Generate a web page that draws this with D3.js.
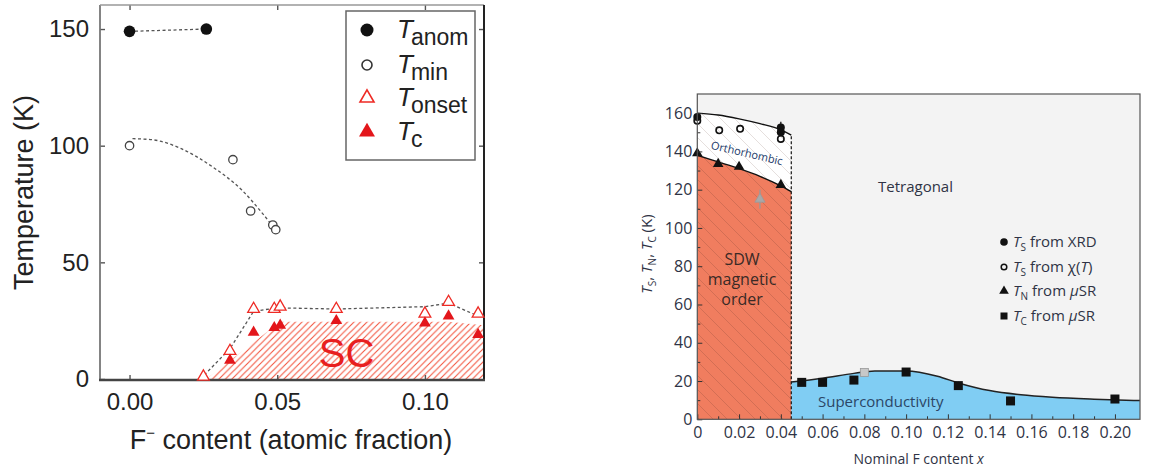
<!DOCTYPE html>
<html><head><meta charset="utf-8">
<script src="https://cdn.jsdelivr.net/npm/d3@7"></script>
<style>body{margin:0;background:#fff}svg{display:block}</style>
</head><body>
<svg id="chart" width="1152" height="472"></svg>
<script>
// ---------- Left panel: characteristic temperatures vs F content ----------
const tAnom  = [[0.000,149],[0.026,150]];
const tMin   = [[0.000,100],[0.035,94],[0.041,72],[0.0485,66],[0.0495,64]];
const tOnset = [[0.025,1],[0.034,12],[0.042,30],[0.049,30],[0.051,31],[0.070,30],[0.100,28],[0.108,33],[0.118,28]];
const tCrit  = [[0.034,8],[0.042,20],[0.049,22],[0.051,23],[0.070,25],[0.100,24],[0.108,27],[0.118,19]];
const guideAnom  = [[0.000,149],[0.026,150]];
const guideMin   = [[0.001,103],[0.008,102.5],[0.017,99],[0.028,91],[0.038,81],[0.045,71],[0.050,63]];
const guideOnset = [[0.024,0],[0.034,13],[0.042,29],[0.050,30.5],[0.070,30],[0.100,31],[0.108,32.5],[0.118,27]];
const scRegion   = [[0.026,0],[0.051,24.5],[0.108,24.5],[0.120,23],[0.120,0]];
const xTicksA = [0.00,0.05,0.10];
const yTicksA = [0,50,100,150];

// ---------- Right panel: phase diagram vs nominal F content ----------
const tsXRD  = [[0,158,0],[0.040,152.5,3],[0.040,150,0]];
const tsChi  = [[0,156],[0.0105,151],[0.0205,151.8],[0.040,146.5]];
const tnMuSR = [[0,139],[0.010,133.5],[0.020,132],[0.040,122.5]];
const tnGray = [[0.030,115,5]];
const tcMuSR = [[0.050,19.3,0],[0.060,19.3,0],[0.075,20.5,2],[0.100,24.7,0],[0.125,17.6,2],[0.150,9.6,0],[0.200,10.6,2]];
const tcGray = [[0.080,24.5,1]];
const tsLine = [[0,160],[0.01,159],[0.02,157],[0.03,154.5],[0.04,151.3],[0.045,148.5]];
const tnLine = [[0,138],[0.01,134.5],[0.02,131],[0.03,127],[0.04,122],[0.045,119]];
const scDome = [[0.045,19.5],[0.06,21.5],[0.075,24],[0.085,25.2],[0.10,25.3],[0.115,22.5],[0.125,19],[0.14,15],[0.155,12.8],[0.17,11.5],[0.19,10.5],[0.212,9.8]];
const sdwEdge = 0.045;
const xTicksB = [0,0.02,0.04,0.06,0.08,0.10,0.12,0.14,0.16,0.18,0.20];
const xTickLabelsB = ["0","0.02","0.04","0.06","0.08","0.10","0.12","0.14","0.16","0.18","0.20"];
const yTicksB = [0,20,40,60,80,100,120,140,160];
const legendB = [
  {sym:"dot",  sub:"S", rest:" from XRD"},
  {sym:"ring", sub:"S", rest:"chi"},
  {sym:"tri",  sub:"N", rest:"musr"},
  {sym:"sq",   sub:"C", rest:"musr"}
];

const svg = d3.select("#chart");
const defs = svg.append("defs");

// red hatch for the SC area (left)
const pA = defs.append("pattern").attr("id","hatchA").attr("patternUnits","userSpaceOnUse")
  .attr("width",6.5).attr("height",6.5);
pA.append("path").attr("d","M0,6.5L6.5,0M-1.6,1.6L1.6,-1.6M4.9,8.1L8.1,4.9")
  .attr("stroke","#f2553f").attr("stroke-width",1.1);
// faint back-slash hatch for the ordered phases (right)
const pB = defs.append("pattern").attr("id","hatchB").attr("patternUnits","userSpaceOnUse")
  .attr("width",14).attr("height",14);
pB.append("path").attr("d","M0,0L14,14M-7,7L7,21M7,-7L21,7")
  .attr("stroke","rgba(90,50,40,0.22)").attr("stroke-width",0.9);

// ================= LEFT PANEL =================
const xA = d3.scaleLinear().domain([-0.01,0.12]).range([100,484]);
const yA = d3.scaleLinear().domain([0,160]).range([379,5.7]);
const gA = svg.append("g").attr("font-family","'Liberation Sans', Arial, sans-serif");

gA.append("path").datum(scRegion)
  .attr("d", d3.line().x(d=>xA(d[0])).y(d=>yA(d[1])))
  .attr("fill","url(#hatchA)");
gA.append("text").attr("x",xA(0.0735)).attr("y",yA(5)).attr("font-size",40)
  .attr("fill","#e8201f").attr("text-anchor","middle").text("SC");

// axes (inward ticks)
const axLA = gA.append("g").attr("transform","translate(100,0)")
  .call(d3.axisLeft(yA).tickValues(yTicksA).tickSize(-5).tickPadding(11).tickFormat(d3.format("d")));
const axRA = gA.append("g").attr("transform","translate(484,0)")
  .call(d3.axisRight(yA).tickValues(yTicksA.filter(v=>v>0)).tickSize(-5).tickFormat(""));
const axBA = gA.append("g").attr("transform","translate(0,380)")
  .call(d3.axisBottom(xA).tickValues(xTicksA).tickSize(-5).tickPadding(13).tickFormat(d3.format(".2f")));
const axTA = gA.append("g").attr("transform","translate(0,5)")
  .call(d3.axisTop(xA).tickValues(xTicksA).tickSize(-5).tickFormat(""));
[axLA,axRA,axBA,axTA].forEach(a=>{
  a.select(".domain").remove();
  a.selectAll("line").attr("stroke","#555").attr("stroke-width",1.4);
  a.selectAll("text").attr("font-size",24).attr("fill","#222").attr("font-family","'Liberation Sans', Arial, sans-serif");
});
// frame
gA.append("line").attr("x1",100).attr("x2",100).attr("y1",5).attr("y2",380).attr("stroke","#777").attr("stroke-width",1.8);
gA.append("line").attr("x1",100).attr("x2",484).attr("y1",5).attr("y2",5).attr("stroke","#999").attr("stroke-width",1.6);
gA.append("line").attr("x1",484).attr("x2",484).attr("y1",5).attr("y2",381).attr("stroke","#222").attr("stroke-width",2);
gA.append("line").attr("x1",99).attr("x2",485).attr("y1",380).attr("y2",380).attr("stroke","#444").attr("stroke-width",2.6);

// dashed guides
const lineA = d3.line().x(d=>xA(d[0])).y(d=>yA(d[1]));
const lineAc = d3.line().x(d=>xA(d[0])).y(d=>yA(d[1])).curve(d3.curveMonotoneX);
[[guideAnom,lineA],[guideMin,lineAc],[guideOnset,lineA]].forEach(([g,gen])=>{
  gA.append("path").attr("d",gen(g))
    .attr("fill","none").attr("stroke","#555").attr("stroke-width",1.3).attr("stroke-dasharray","3,2.5");
});

// markers
gA.selectAll(".anom").data(tAnom).join("circle")
  .attr("cx",d=>xA(d[0])).attr("cy",d=>yA(d[1])).attr("r",5.8).attr("fill","#111");
gA.selectAll(".tmin").data(tMin).join("circle")
  .attr("cx",d=>xA(d[0])).attr("cy",d=>yA(d[1])).attr("r",4.2)
  .attr("fill","#fff").attr("stroke","#444").attr("stroke-width",1.3);
const triA = d3.symbol(d3.symbolTriangle, 60);
gA.selectAll(".ons").data(tOnset).join("path")
  .attr("d",triA).attr("transform",d=>`translate(${xA(d[0])},${yA(d[1])})`)
  .attr("fill","#fff").attr("stroke","#ee2a24").attr("stroke-width",1.3);
gA.selectAll(".tc").data(tCrit).join("path")
  .attr("d",triA).attr("transform",d=>`translate(${xA(d[0])},${yA(d[1])})`)
  .attr("fill","#e3161b");

// axis titles
gA.append("text").attr("transform","translate(33,192.5) rotate(-90)")
  .attr("text-anchor","middle").attr("font-size",27).attr("fill","#222").text("Temperature (K)");
const xt = gA.append("text").attr("x",291).attr("y",449).attr("text-anchor","middle")
  .attr("font-size",27).attr("fill","#222");
xt.append("tspan").text("F");
xt.append("tspan").attr("dy",-11).attr("font-size",15).text("\u2212");
xt.append("tspan").attr("dy",11).text(" content (atomic fraction)");

// legend
const lgA = gA.append("g");
lgA.append("rect").attr("x",346).attr("y",11).attr("width",129).attr("height",149)
  .attr("fill","#fff").attr("stroke","#666").attr("stroke-width",1.5);
const legA = [
  {y:30, sub:"anom", draw:g=>g.append("circle").attr("r",6.5).attr("fill","#111")},
  {y:65, sub:"min",  draw:g=>g.append("circle").attr("r",5).attr("fill","#fff").attr("stroke","#333").attr("stroke-width",1.6)},
  {y:98, sub:"onset",draw:g=>g.append("path").attr("d",d3.symbol(d3.symbolTriangle,85)).attr("fill","#fff").attr("stroke","#ee2a24").attr("stroke-width",1.6)},
  {y:132,sub:"c",    draw:g=>g.append("path").attr("d",d3.symbol(d3.symbolTriangle,110)).attr("fill","#e3161b")}
];
legA.forEach(e=>{
  const m = lgA.append("g").attr("transform",`translate(367,${e.y})`); e.draw(m);
  const t = lgA.append("text").attr("x",397).attr("y",e.y+8).attr("font-size",26).attr("fill","#222");
  t.append("tspan").attr("font-style","italic").text("T");
  t.append("tspan").attr("dx",-2).attr("dy",7).attr("font-size",23).text(e.sub);
});

// ================= RIGHT PANEL =================
const xB = d3.scaleLinear().domain([0,0.212]).range([697.3,1140]);
const yB = d3.scaleLinear().domain([0,170]).range([419.3,94]);
const gB = svg.append("g").attr("font-family","'Open Sans', 'Noto Sans', sans-serif");
const txtB = "#2f3345";

gB.append("rect").attr("x",xB(0)).attr("y",yB(170)).attr("width",xB(0.212)-xB(0)).attr("height",yB(0)-yB(170))
  .attr("fill","#f3f3f3");

const lineB = d3.line().x(d=>xB(d[0])).y(d=>yB(d[1]));
const lineBc = d3.line().x(d=>xB(d[0])).y(d=>yB(d[1])).curve(d3.curveMonotoneX);

// orthorhombic band between T_N and T_S
const orthoPoly = tsLine.concat(tnLine.slice().reverse());
gB.append("path").attr("d",lineB(orthoPoly)+"Z").attr("fill","#fff");
gB.append("path").attr("d",lineB(orthoPoly)+"Z").attr("fill","url(#hatchB)").attr("opacity",0.8);
// SDW region
const sdwPoly = [[0,0]].concat(tnLine,[[sdwEdge,0]]);
gB.append("path").attr("d",lineB(sdwPoly)+"Z").attr("fill","#f07d5f");
gB.append("path").attr("d",lineB(sdwPoly)+"Z").attr("fill","url(#hatchB)");
// superconducting dome
gB.append("path")
  .attr("d", d3.area().x(d=>xB(d[0])).y0(yB(0)).y1(d=>yB(d[1])).curve(d3.curveMonotoneX)(scDome))
  .attr("fill","#80cdf3");

// phase boundaries
gB.append("path").attr("d",lineBc(tsLine)).attr("fill","none").attr("stroke","#111").attr("stroke-width",1.4);
gB.append("path").attr("d",lineBc(tnLine)).attr("fill","none").attr("stroke","#111").attr("stroke-width",1.4);
gB.append("path").attr("d",lineBc(scDome)).attr("fill","none").attr("stroke","#222").attr("stroke-width",1.5);
gB.append("line").attr("x1",xB(sdwEdge)).attr("x2",xB(sdwEdge)).attr("y1",yB(0)).attr("y2",yB(148.5))
  .attr("stroke","#111").attr("stroke-width",1.2).attr("stroke-dasharray","3,2");

// region labels
gB.append("text").attr("x",878).attr("y",192).attr("font-size",15).attr("fill",txtB).text("Tetragonal");
gB.append("text").attr("transform","translate(746,157) rotate(13)")
  .attr("text-anchor","middle").attr("font-size",11).attr("fill","#233b6a").text("Orthorhombic");
["SDW","magnetic","order"].forEach((s,i)=>{
  gB.append("text").attr("x",742).attr("y",265+i*20).attr("text-anchor","middle")
    .attr("font-size",16).attr("fill","#3a2a26").text(s);
});
gB.append("text").attr("x",818).attr("y",407).attr("font-size",15).attr("fill","#2b4666").text("Superconductivity");

// error bars
function errBars(data, color){
  data.filter(d=>d[2]>0).forEach(d=>{
    gB.append("line").attr("x1",xB(d[0])).attr("x2",xB(d[0]))
      .attr("y1",yB(d[1]-d[2])).attr("y2",yB(d[1]+d[2])).attr("stroke",color).attr("stroke-width",1.3);
  });
}
errBars(tsXRD,"#111"); errBars(tcMuSR,"#111"); errBars(tcGray,"#999"); errBars(tnGray,"#999");

// markers
gB.selectAll(".xrd").data(tsXRD).join("circle")
  .attr("cx",d=>xB(d[0])).attr("cy",d=>yB(d[1])).attr("r",4).attr("fill","#111");
gB.selectAll(".chi").data(tsChi).join("circle")
  .attr("cx",d=>xB(d[0])).attr("cy",d=>yB(d[1])).attr("r",3.2).attr("fill","none").attr("stroke","#111").attr("stroke-width",1.6);
const triB = d3.symbol(d3.symbolTriangle, 48);
gB.selectAll(".tn").data(tnMuSR).join("path")
  .attr("d",triB).attr("transform",d=>`translate(${xB(d[0])},${yB(d[1])})`).attr("fill","#111");
gB.selectAll(".tng").data(tnGray).join("path")
  .attr("d",d3.symbol(d3.symbolTriangle, 45)).attr("transform",d=>`translate(${xB(d[0])},${yB(d[1])})`)
  .attr("fill","#a8a8a8").attr("stroke","#999").attr("stroke-width",0.8);
gB.selectAll(".tcs").data(tcMuSR).join("rect")
  .attr("x",d=>xB(d[0])-4.5).attr("y",d=>yB(d[1])-4.5).attr("width",9).attr("height",9).attr("fill","#111");
gB.selectAll(".tcg").data(tcGray).join("rect")
  .attr("x",d=>xB(d[0])-4).attr("y",d=>yB(d[1])-4).attr("width",8).attr("height",8)
  .attr("fill","#c8c8c8").attr("stroke","#999").attr("stroke-width",0.8);

// axes
const axLB = gB.append("g").attr("transform",`translate(${xB(0)},0)`)
  .call(d3.axisLeft(yB).tickValues(yTicksB).tickSize(-5).tickPadding(5));
const axLBm = gB.append("g").attr("transform",`translate(${xB(0)},0)`)
  .call(d3.axisLeft(yB).tickValues(d3.range(10,170,20)).tickSize(-3).tickFormat(""));
const axBB = gB.append("g").attr("transform",`translate(0,${yB(0)})`)
  .call(d3.axisBottom(xB).tickValues(xTicksB).tickSize(-5).tickPadding(7).tickFormat((d,i)=>xTickLabelsB[i]));
const axBBm = gB.append("g").attr("transform",`translate(0,${yB(0)})`)
  .call(d3.axisBottom(xB).tickValues(d3.range(0.01,0.21,0.02)).tickSize(-3).tickFormat(""));
[axLB,axLBm,axBB,axBBm].forEach(a=>{
  a.select(".domain").remove();
  a.selectAll("line").attr("stroke","#333").attr("stroke-width",1);
  a.selectAll("text").attr("font-size",16).attr("fill",txtB).attr("font-family","'Open Sans', 'Noto Sans', sans-serif");
});
gB.append("rect").attr("x",xB(0)).attr("y",yB(170)).attr("width",xB(0.212)-xB(0)).attr("height",yB(0)-yB(170))
  .attr("fill","none").attr("stroke","#555").attr("stroke-width",1.2);

// axis titles
gB.append("text").attr("x",(xB(0)+xB(0.212))/2).attr("y",464).attr("text-anchor","middle")
  .attr("font-size",14).attr("fill",txtB)
  .call(t=>{ t.append("tspan").text("Nominal F content "); t.append("tspan").attr("font-style","italic").text("x"); });
const yl = gB.append("text").attr("transform","translate(652,254) rotate(-90)").attr("text-anchor","middle")
  .attr("font-size",15).attr("fill",txtB);
[["S",", "],["N",", "],["C"," (K)"]].forEach(p=>{
  yl.append("tspan").attr("font-style","italic").text("T");
  yl.append("tspan").attr("dy",4).attr("font-size",10).text(p[0]);
  yl.append("tspan").attr("dy",-4).text(p[1]);
});

// legend
const lgB = gB.append("g");
legendB.forEach((e,i)=>{
  const y = [242,267,291,316][i];
  const mx = 1004;
  if(e.sym==="dot") lgB.append("circle").attr("cx",mx).attr("cy",y).attr("r",3.8).attr("fill","#111");
  if(e.sym==="ring") lgB.append("circle").attr("cx",mx).attr("cy",y).attr("r",2.8).attr("fill","none").attr("stroke","#111").attr("stroke-width",1.5);
  if(e.sym==="tri") lgB.append("path").attr("d",d3.symbol(d3.symbolTriangle,40)).attr("transform",`translate(${mx},${y})`).attr("fill","#111");
  if(e.sym==="sq") lgB.append("rect").attr("x",mx-3.5).attr("y",y-3.5).attr("width",7).attr("height",7).attr("fill","#111");
  const t = lgB.append("text").attr("x",1013).attr("y",y+5).attr("font-size",15).attr("fill",txtB);
  t.append("tspan").attr("font-style","italic").text("T");
  t.append("tspan").attr("dy",4).attr("font-size",10).text(e.sub);
  if(e.rest==="chi"){
    t.append("tspan").attr("dy",-4).text(" from \u03c7(");
    t.append("tspan").attr("font-style","italic").text("T");
    t.append("tspan").text(")");
  } else if(e.rest==="musr"){
    t.append("tspan").attr("dy",-4).text(" from ");
    t.append("tspan").attr("font-style","italic").text("\u03bc");
    t.append("tspan").text("SR");
  } else {
    t.append("tspan").attr("dy",-4).text(e.rest);
  }
});
</script>
</body></html>
